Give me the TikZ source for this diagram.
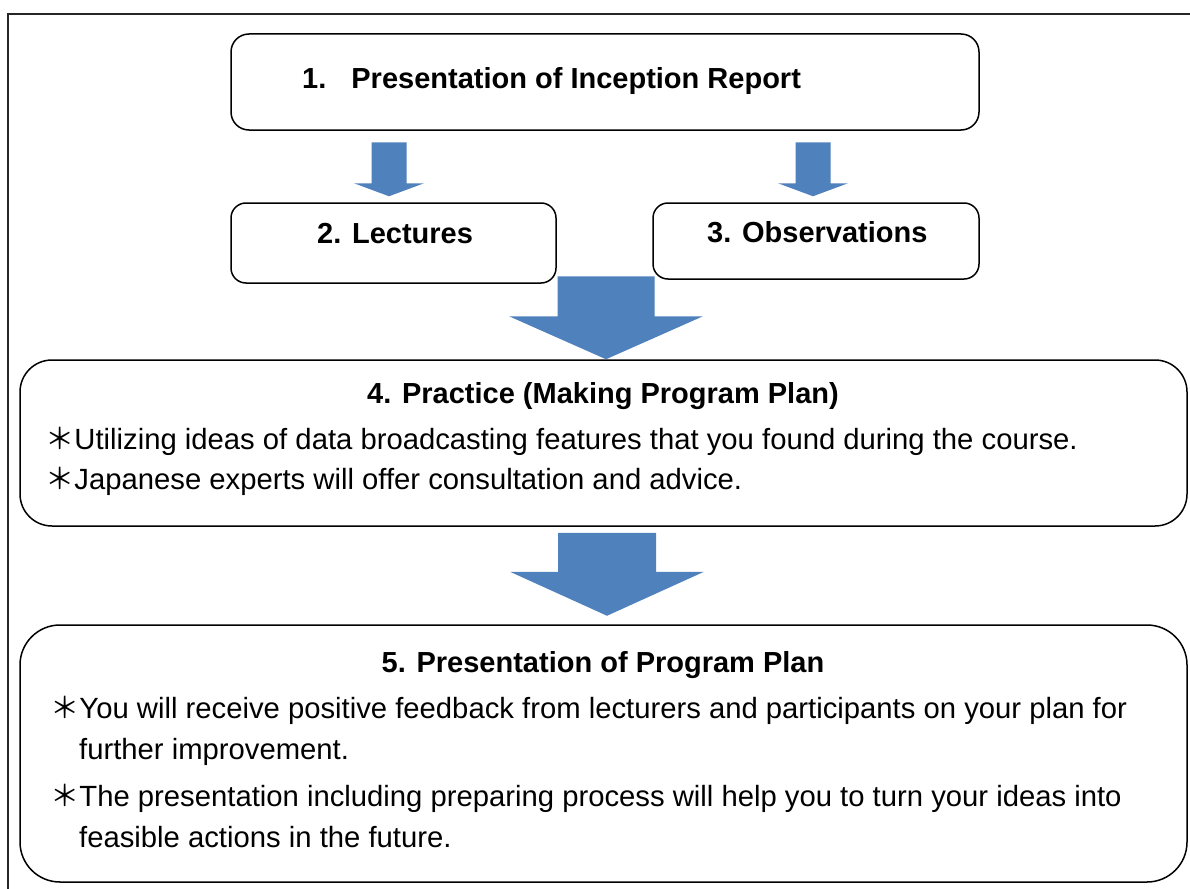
\documentclass[tikz,border=0pt]{standalone}
\usepackage{fontspec}
\setmainfont{Liberation Sans}
\newfontfamily\cjk{Noto Sans CJK JP}
\usetikzlibrary{calc}
\definecolor{arrowblue}{HTML}{4F81BD}
\begin{document}
\begin{tikzpicture}[x=1pt,y=-1pt,
  box/.style={draw=black, line width=1.5pt, inner sep=0pt, fill=white},
  blockarrow/.style={fill=arrowblue, draw=none},
  head/.style={font=\fontsize{29}{35}\selectfont\bfseries, inner sep=0pt},
  body/.style={font=\fontsize{29.25}{35}\selectfont, inner sep=0pt, anchor=base west}]
\useasboundingbox (0,0) rectangle (1190,888);
\fill[white] (0,0) rectangle (1190,888);
% outer frame
\begin{scope}
\clip (0,0) rectangle (1190,888);
\draw[black!85, line width=1.5pt] (8,14) rectangle (1200,900);
\end{scope}
% boxes
\node[box, rounded corners=18pt, minimum width=748pt, minimum height=96pt] (b1) at (605,82) {};
\node[box, rounded corners=15pt, minimum width=325pt, minimum height=80pt] (b2) at (393.5,243) {};
\node[box, rounded corners=15pt, minimum width=326pt, minimum height=76pt] (b3) at (816,241) {};
\node[box, rounded corners=32pt, minimum width=1167pt, minimum height=166pt] (b4) at (603.5,443) {};
\node[box, rounded corners=40pt, minimum width=1167pt, minimum height=257pt] (b5) at (603.5,753.5) {};
% arrow tips
\coordinate (t2) at ($(b2.north)+(-4.5,-6)$);
\coordinate (t3) at ($(b3.north)+(-3,-6)$);
\coordinate (t4) at ($(b4.north)+(2.5,0)$);
\coordinate (t5) at ($(b5.north)+(3.5,-8.5)$);
% small arrows b1 -> b2, b1 -> b3
\fill[blockarrow, shift={(t2)}] (-17.5,-54) -- (17.5,-54) -- (17.5,-13) -- (35,-13) -- (0,0) -- (-35,-13) -- (-17.5,-13) -- cycle;
\fill[blockarrow, shift={(t3)}] (-17.5,-54) -- (17.5,-54) -- (17.5,-13) -- (35,-13) -- (0,0) -- (-35,-13) -- (-17.5,-13) -- cycle;
% big arrows b2/b3 -> b4, b4 -> b5
\fill[blockarrow, shift={(t4)}] (-48.5,-83) -- (48.5,-83) -- (48.5,-43) -- (97,-43) -- (0,0) -- (-97,-43) -- (-48.5,-43) -- cycle;
\fill[blockarrow, shift={(t5)}] (-49,-83) -- (49,-83) -- (49,-44) -- (97,-44) -- (0,0) -- (-97,-44) -- (-49,-44) -- cycle;
% texts
\node[head, anchor=base west] (l1) at (302,89) {1.\hspace{25pt}Presentation of Inception Report};
\node[head, anchor=base west] (l2) at (317,243) {2. Lectures};
\node[head, anchor=base west] (l3) at (707,242) {3. Observations};
\node[head, anchor=base] (l4) at (603,403) {4. Practice (Making Program Plan)};
\node[body] (l4a) at (45,449) {{\cjk ＊}Utilizing ideas of data broadcasting features that you found during the course.};
\node[body] (l4b) at (45,489) {{\cjk ＊}Japanese experts will offer consultation and advice.};
\node[head, anchor=base] (l5) at (603,672) {5. Presentation of Program Plan};
\node[body] (l5a) at (50,718) {{\cjk ＊}You will receive positive feedback from lecturers and participants on your plan for};
\node[body] (l5b) at (79,759) {further improvement.};
\node[body] (l5c) at (50,806) {{\cjk ＊}The presentation including preparing process will help you to turn your ideas into};
\node[body] (l5d) at (79,847) {feasible actions in the future.};
\end{tikzpicture}
\end{document}
